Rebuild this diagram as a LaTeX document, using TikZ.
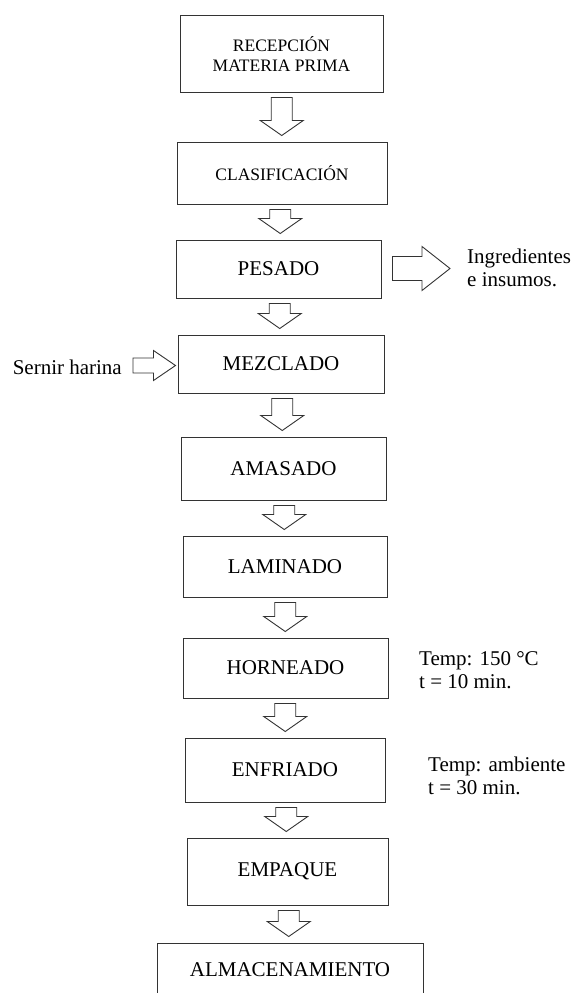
\documentclass[tikz,border=0pt]{standalone}
\usepackage{fontspec}
\setmainfont{Liberation Serif}
\usetikzlibrary{calc,positioning}

\begin{document}
\begin{tikzpicture}
    [x=1pt, y=-1pt,
    block/.style={rectangle, draw=black!80, line width=1pt,
    align=center, inner sep=2pt, font=\fontsize{21}{22}\selectfont},
    small/.style={font=\fontsize{17.5}{20}\selectfont},
    note/.style={inner sep=0pt, align=left, font=\fontsize{21}{23}\selectfont},
    line/.style={draw=black!80, line width=0.9pt, line join=miter},
    fatdown/.style={to path={let \p1=(\tikztostart.south), \p2=(\tikztotarget.north),
      \p3=($(\p1)!0.5!(\p2)$) in
      (\x3-10.5pt,\y1-5pt) -- (\x3+10.5pt,\y1-5pt) -- (\x3+10.5pt,\y2+21pt)
      -- (\x3+21.5pt,\y2+21pt) -- (\x3,\y2+6pt) -- (\x3-21.5pt,\y2+21pt)
      -- (\x3-10.5pt,\y2+21pt) -- cycle}},
    fatside/.style n args={5}{to path={let \p1=(\tikztostart.east), \p2=(\tikztotarget.west),
      \p3=($(\p1)!0.5!(\p2)$) in
      (\x1+#1,\y3+#3) -- (\x2-#2-#5,\y3+#3) -- (\x2-#2-#5,\y3+#4) -- (\x2-#2,\y3)
      -- (\x2-#2-#5,\y3-#4) -- (\x2-#2-#5,\y3-#3) -- (\x1+#1,\y3-#3) -- cycle}}]

    \useasboundingbox (0,0) rectangle (572,993);
    \clip (0,0) rectangle (572,993);

    % process steps
    \node [block, small, minimum width=203, minimum height=77] (recepcion) at (281.5,53.5) {RECEPCIÓN\\MATERIA PRIMA};
    \node [block, small, minimum width=210, minimum height=62] (clasif) at (282,173) {CLASIFICACIÓN};
    \node [block, minimum width=205, minimum height=58] (pesado) at (278.5,269) {PESADO};
    \node [block, minimum width=206, minimum height=58] (mezclado) at (281,364) {MEZCLADO};
    \node [block, minimum width=205, minimum height=63] (amasado) at (283.5,468.5) {AMASADO};
    \node [block, minimum width=204, minimum height=61] (laminado) at (285,566.5) {LAMINADO};
    \node [block, minimum width=205, minimum height=60] (horneado) at (285.5,668) {HORNEADO};
    \node [block, minimum width=200, minimum height=64] (enfriado) at (285,770) {ENFRIADO};
    \node [block, minimum width=201, minimum height=67] (empaque) at (287.5,871.5) {EMPAQUE};
    \node [block, minimum width=266, minimum height=54] (almacen) at (290,970) {ALMACENAMIENTO};

    % side notes
    \node [note, anchor=west] (insumos) at (467,268) {Ingredientes\\e insumos.};
    \node [note, anchor=east] (harina) at (122,367) {Sernir harina};
    \node [note, anchor=west] (temphorno) at (419,670) {Temp: 150 °C\\t = 10 min.};
    \node [note, anchor=west] (tempfrio) at (428,776) {Temp: ambiente\\t = 30 min.};

    \begin{scope}[every path/.style=line]
        \path (recepcion) to[fatdown] (clasif);
        \path (clasif) to[fatdown] (pesado);
        \path (pesado) to[fatdown] (mezclado);
        \path (mezclado) to[fatdown] (amasado);
        \path (amasado) to[fatdown] (laminado);
        \path (laminado) to[fatdown] (horneado);
        \path (horneado) to[fatdown] (enfriado);
        \path (enfriado) to[fatdown] (empaque);
        \path (empaque) to[fatdown] (almacen);
        \path (pesado) to[fatside={11pt}{17pt}{12pt}{22pt}{28pt}] (insumos);
        \path (harina) to[fatside={11pt}{2pt}{7.5pt}{15pt}{22pt}] (mezclado);
    \end{scope}
    \end{tikzpicture}
\end{document}
